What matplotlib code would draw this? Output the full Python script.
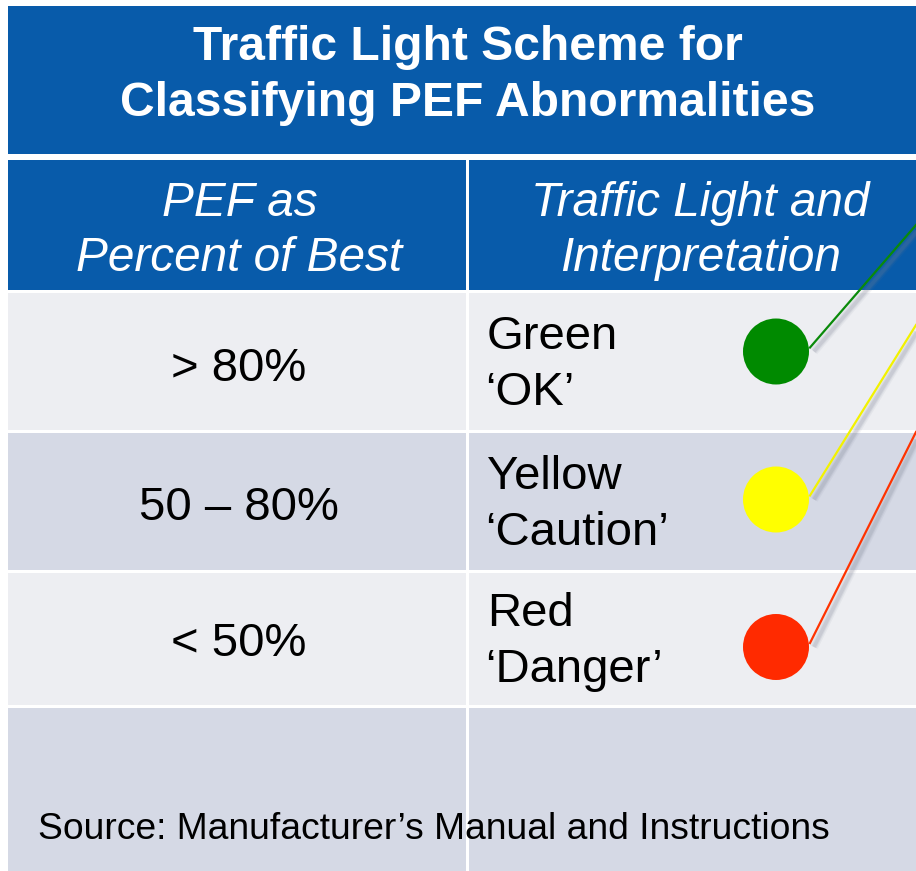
import matplotlib
matplotlib.use("Agg")
import matplotlib.pyplot as plt
from matplotlib.patches import Rectangle, Circle

plt.rcParams['font.family'] = ['Liberation Sans', 'DejaVu Sans']

title_lines = ["Traffic Light Scheme for", "Classifying PEF Abnormalities"]
header_left = ["PEF as", "Percent of Best"]
header_right = ["Traffic Light and", "Interpretation"]
pef_ranges = ["> 80%", "50 \u2013 80%", "< 50%"]
light_names = ["Green", "Yellow", "Red"]
interpretations = ["\u2018OK\u2019", "\u2018Caution\u2019", "\u2018Danger\u2019"]
light_colors = ["#008A00", "#FFFF00", "#FF2A00"]
line_colors = ["#0A8A0A", "#F2F200", "#FF3300"]
source_text = "Source: Manufacturer\u2019s Manual and Instructions"

W, H = 916, 871
fig = plt.figure(figsize=(W / 100, H / 100), dpi=100)
ax = fig.add_axes([0, 0, 1, 1])
ax.set_xlim(0, W)
ax.set_ylim(H, 0)
ax.axis('off')
fig.patch.set_facecolor('white')

blue = "#085BAA"
light = "#EDEEF2"
dark = "#D5D9E5"

x0, xd, x1 = 8, 467, 916
# title box
ax.add_patch(Rectangle((x0, 6), x1 - x0, 148, facecolor=blue, edgecolor='none'))
tx = (x0 + x1) / 2 + 6
ax.text(tx, 48, title_lines[0], color='white', fontsize=34.6, fontweight='bold',
        ha='center', va='center')
ax.text(tx, 103, title_lines[1], color='white', fontsize=34.6, fontweight='bold',
        ha='center', va='center')

# header row
ax.add_patch(Rectangle((x0, 160), xd - x0 - 1, 130, facecolor=blue, edgecolor='none'))
ax.add_patch(Rectangle((xd + 2, 160), x1 - xd - 2, 130, facecolor=blue, edgecolor='none'))
cl = (x0 + xd) / 2 + 2
cr = (xd + x1) / 2 + 9
for i, (a, b) in enumerate(zip(header_left, header_right)):
    y = 203 + i * 55
    ax.text(cl, y, a, color='white', fontsize=34.4, style='italic', ha='center', va='center')
    ax.text(cr, y, b, color='white', fontsize=34.4, style='italic', ha='center', va='center')

# body rows
row_tops = [293, 433, 573, 708]
row_bots = [430, 570, 705, 871]
fills = [light, dark, light, dark]
for t, b, f in zip(row_tops, row_bots, fills):
    ax.add_patch(Rectangle((x0, t), xd - x0 - 1, b - t, facecolor=f, edgecolor='none'))
    ax.add_patch(Rectangle((xd + 2, t), x1 - xd - 2, b - t, facecolor=f, edgecolor='none'))

range_y_off = [7, 6, 5]
line_ends = [225, 325, 432]
for i in range(3):
    t, b = row_tops[i], row_bots[i]
    yc = (t + b) / 2
    ax.text(cl - 1, yc + range_y_off[i], pef_ranges[i], fontsize=34, ha='center', va='center',
            color='black')
    ax.text(487, yc - 25, light_names[i], fontsize=34, ha='left', va='center', color='black')
    ax.text(485, yc + 31, interpretations[i], fontsize=34, ha='left', va='center', color='black')
    cy = yc - 10 if i == 0 else (yc - 2 if i == 1 else yc + 8)
    # soft shadow line
    for lw, al in [(6, 0.08), (4, 0.12), (2.5, 0.15)]:
        ax.plot([811 + 3, x1 + 3], [cy - 4 + 4, line_ends[i] + 4], color='#7A7F90', lw=lw,
                alpha=al, solid_capstyle='butt', zorder=2)
    ax.plot([810, x1], [cy - 4, line_ends[i]], color=line_colors[i], lw=1.6, zorder=3)
    ax.add_patch(Circle((776, cy), 33, facecolor=light_colors[i], edgecolor='none', zorder=4))

ax.text(38, 829, source_text, fontsize=26.8, ha='left', va='center', color='black', zorder=5)

fig.savefig("out.png", dpi=100)
